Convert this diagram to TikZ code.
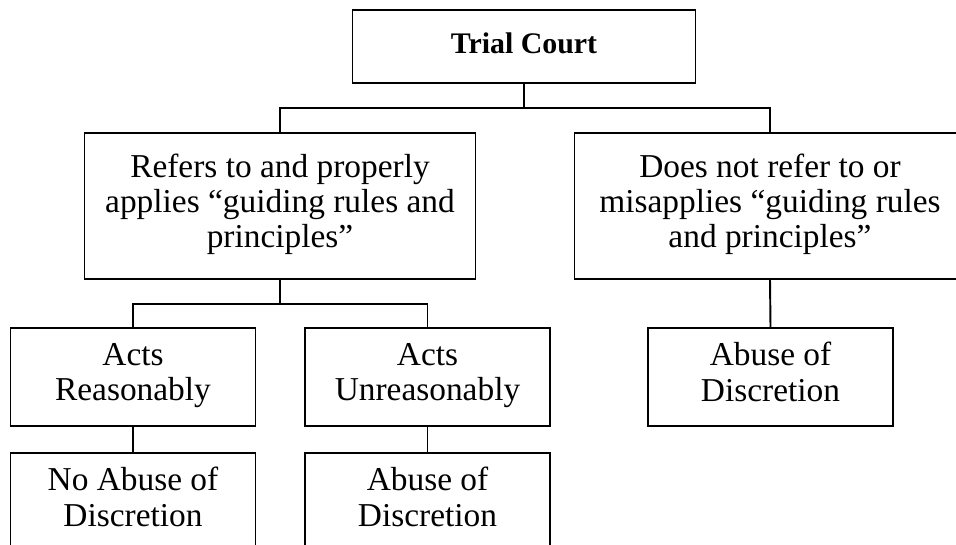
\documentclass[tikz,border=0pt]{standalone}
\usepackage{fontspec}
\setmainfont{Liberation Serif}
\usepackage{tikz}
\usetikzlibrary{positioning}
\tikzset{
    block/.style={rectangle, draw, line width=1.1pt, align=center, font=\fontsize{19}{20}\selectfont,
        execute at begin node=\strut, execute at end node=\strut},
    bigblock/.style={block, minimum width=7.82cm, minimum height=2.92cm},
    smallblock/.style={block, minimum width=4.9cm, minimum height=1.96cm},
    link/.style={line width=1.1pt}
}
\begin{document}
\begin{tikzpicture}
            \useasboundingbox (0,0) rectangle (19.12,-10.88);
            \clip (0,0) rectangle (19.12,-10.88);

            \node[block, minimum width=6.86cm, minimum height=1.46cm, font=\bfseries\fontsize{17}{20}\selectfont] (court) at (10.48,-0.93) {Trial Court};
            \node[bigblock] (refers) at (5.60,-4.12) {Refers to and properly\\applies “guiding rules and\\principles”};
            \node[bigblock] (notrefer) at (15.40,-4.12) {Does not refer to or\\misapplies “guiding rules\\and principles”};
            \node[smallblock] (reasonable) at (2.66,-7.54) {Acts\\Reasonably};
            \node[smallblock] (unreasonable) at (8.55,-7.54) {Acts\\Unreasonably};
            \node[smallblock] (abuse_right) at (15.41,-7.54) {Abuse of\\Discretion};
            \node[smallblock] (no_abuse) [below=0.5cm of reasonable] {No Abuse of\\Discretion};
            \node[smallblock] (abuse_mid) [below=0.5cm of unreasonable] {Abuse of\\Discretion};

            \draw[link] (court.south) -- ++(0,-0.48) -| (refers.north);
            \draw[link] (court.south) -- ++(0,-0.48) -| (notrefer.north);
            \draw[link] (refers.south) -- ++(0,-0.48) -| (reasonable.north);
            \draw[link] (refers.south) -- ++(0,-0.48) -| (unreasonable.north);
            \draw[link] (notrefer.south) -- (abuse_right.north);
            \draw[link] (reasonable.south) -- (no_abuse.north);
            \draw[link] (unreasonable.south) -- (abuse_mid.north);
        \end{tikzpicture}
\end{document}
